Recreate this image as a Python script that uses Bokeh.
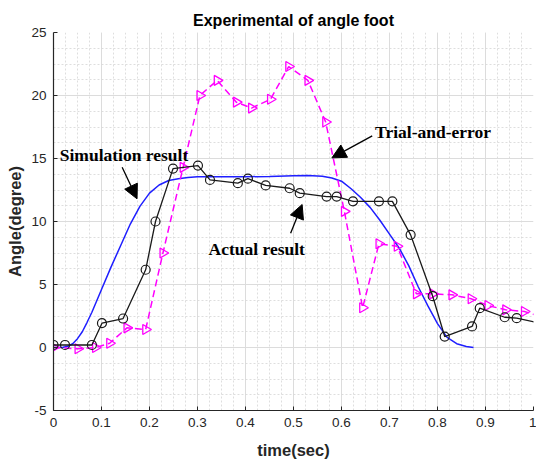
import numpy as np
from bokeh.plotting import figure
from bokeh.models import FixedTicker, Label, Arrow, NormalHead, Range1d
from bokeh.embed import file_html
from bokeh.resources import INLINE

# Simulation result (blue)
sim_t = [0, 0.02, 0.03, 0.04, 0.05, 0.06, 0.07, 0.08, 0.10, 0.12, 0.14, 0.16, 0.18, 0.20, 0.22,
         0.24, 0.26, 0.28, 0.30, 0.35, 0.40, 0.45, 0.50, 0.53, 0.56, 0.58, 0.60, 0.62, 0.64,
         0.66, 0.68, 0.70, 0.72, 0.74, 0.76, 0.78, 0.80, 0.82, 0.84, 0.86, 0.875]
sim_y = [0, 0.02, 0.1, 0.3, 0.7, 1.25, 2.0, 2.8, 4.6, 6.4, 8.1, 9.8, 11.2, 12.25, 12.9,
         13.25, 13.4, 13.5, 13.55, 13.55, 13.55, 13.58, 13.63, 13.65, 13.6, 13.45, 13.2, 12.6, 11.9,
         11.1, 10.1, 9.0, 7.9, 6.5, 4.8, 3.3, 1.9, 0.8, 0.3, 0.08, 0.0]

# Actual result (black circles)
act_t = [0, 0.024, 0.08, 0.101, 0.145, 0.192, 0.2125, 0.249, 0.301, 0.326, 0.384, 0.405, 0.442,
         0.492, 0.513, 0.569, 0.59, 0.624, 0.678, 0.706, 0.744, 0.79, 0.815, 0.872, 0.888, 0.94,
         0.965, 1.03]
act_y = [0.2, 0.2, 0.2, 1.93, 2.3, 6.17, 10.0, 14.2, 14.44, 13.3, 13.04, 13.4, 12.86,
         12.64, 12.25, 11.98, 11.98, 11.6, 11.6, 11.6, 8.94, 4.07, 0.87, 1.67, 3.12, 2.4,
         2.33, 1.8]

# Trial-and-error (magenta triangles)
tri_t = [0, 0.051, 0.0875, 0.117, 0.153, 0.192, 0.228, 0.27, 0.305, 0.341, 0.381, 0.4125,
         0.452, 0.49, 0.53, 0.567, 0.606, 0.644, 0.678, 0.716, 0.756, 0.79, 0.83, 0.87, 0.905,
         0.942, 0.981, 1.02]
tri_y = [0, -0.1, 0, 0.34, 1.56, 1.43, 7.5, 14.3, 20.0, 21.2, 19.47, 19.0,
         19.7, 22.3, 21.2, 17.9, 10.8, 3.15, 8.23, 8.04, 4.26, 4.26, 4.18, 3.87, 3.33,
         2.99, 2.86, 2.4]

x_ticks = [0, 0.1, 0.2, 0.3, 0.4, 0.5, 0.6, 0.7, 0.8, 0.9, 1]
y_ticks = [-5, 0, 5, 10, 15, 20, 25]
x_minor = [round(i * 0.025, 3) for i in range(41)]
y_minor = [-5 + i * 1.25 for i in range(25)]

# annotations: (text, x, y) and arrows (x_start, y_start, x_end, y_end)
ann_texts = ["Simulation result", "Trial-and-error", "Actual result"]
ann_x = [0.013, 0.67, 0.323]
ann_y = [15.3, 17.1, 7.8]
arr_x0 = [0.143, 0.664, 0.494]
arr_y0 = [14.3, 16.8, 9.07]
arr_x1 = [0.174, 0.58, 0.518]
arr_y1 = [11.8, 15.05, 11.35]

p = figure(width=536, height=461, output_backend="svg", toolbar_location=None,
           x_range=Range1d(0, 1), y_range=Range1d(-5, 25),
           min_border_left=53, min_border_right=3, min_border_top=32, min_border_bottom=51)
p.outline_line_color = None
p.background_fill_color = "white"

p.title.text = "Experimental of angle foot"
p.title.align = "center"
p.title.text_font = "Liberation Sans"
p.title.text_font_size = "16px"
p.title.text_font_style = "bold"
p.title.text_color = "#000000"
p.title.offset = 0
p.title.standoff = 7

for ax in (p.xaxis[0], p.yaxis[0]):
    ax.axis_line_color = "#262626"
    ax.axis_line_width = 1.2
    ax.major_tick_in = 4
    ax.major_tick_out = 0
    ax.minor_tick_in = 0
    ax.minor_tick_out = 0
    ax.major_tick_line_color = "#262626"
    ax.major_label_text_font = "Liberation Sans"
    ax.major_label_text_font_size = "13.5px"
    ax.major_label_text_color = "#262626"
    ax.axis_label_text_font = "Liberation Sans"
    ax.axis_label_text_font_size = "16.5px"
    ax.axis_label_text_font_style = "bold"
    ax.axis_label_text_color = "#262626"

p.xaxis.ticker = FixedTicker(ticks=x_ticks, minor_ticks=x_minor)
p.yaxis.ticker = FixedTicker(ticks=y_ticks, minor_ticks=y_minor)
p.xaxis.major_label_overrides = {0: "0", 1: "1"}
p.yaxis.major_label_overrides = {-5: "-5"}
p.xaxis.axis_label = "time(sec)"
p.yaxis.axis_label = "Angle(degree)"
p.xaxis.major_label_standoff = 7
p.xaxis.axis_label_standoff = 11
p.yaxis.major_label_standoff = 7
p.yaxis.axis_label_standoff = 4

for g in (p.xgrid[0], p.ygrid[0]):
    g.grid_line_color = "#dcdcdc"
    g.grid_line_width = 1
    g.minor_grid_line_color = "#d6d6d6"
    g.minor_grid_line_dash = "2 2"
    g.minor_grid_line_width = 0.8

p.line(sim_t, sim_y, line_color="#1f1fff", line_width=1.5)

p.line(tri_t, tri_y, line_color="#ff00ff", line_width=1.5, line_dash="7 4")
p.scatter(tri_t, tri_y, marker="triangle", angle=-np.pi / 2, size=10,
          fill_color=None, line_color="#ff00ff", line_width=1.3)

p.line(act_t, act_y, line_color="#1a1a1a", line_width=1.3)
p.scatter(act_t, act_y, marker="circle", size=9, fill_color=None,
          line_color="#1a1a1a", line_width=1.2)

for t, x, y in zip(ann_texts, ann_x, ann_y):
    p.add_layout(Label(x=x, y=y, text=t, text_font="Liberation Serif", text_font_size="17.5px",
                       text_font_style="bold", text_color="black", text_baseline="middle",
                       text_align="left"))

for x0, y0, x1, y1 in zip(arr_x0, arr_y0, arr_x1, arr_y1):
    p.add_layout(Arrow(end=NormalHead(size=14, fill_color="black", line_color="black"),
                       x_start=x0, y_start=y0, x_end=x1, y_end=y1,
                       line_color="black", line_width=1.3))

open("out.html", "w").write(file_html(p, INLINE))
